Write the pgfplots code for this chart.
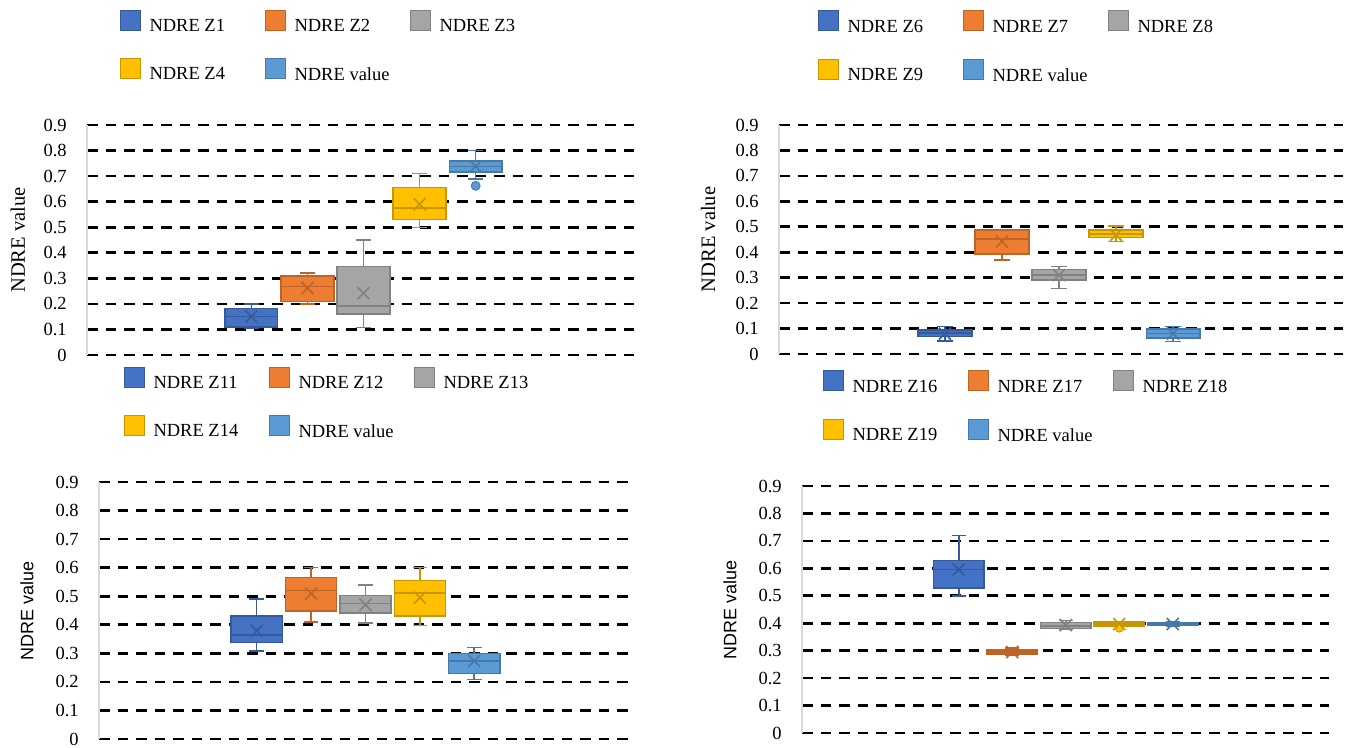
\documentclass[border=0pt]{standalone}
\usepackage{pgfplots}
\pgfplotsset{compat=1.18}
\usepgfplotslibrary{statistics}
\usepackage{fontspec}
\setmainfont{Liberation Serif}
\newfontfamily\arialfont{Liberation Sans}

\definecolor{cA}{HTML}{4472C4}
\definecolor{cB}{HTML}{ED7D31}
\definecolor{cC}{HTML}{A5A5A5}
\definecolor{cD}{HTML}{FFC000}
\definecolor{cE}{HTML}{5B9BD5}
\colorlet{cAD}{cA!78!black}
\colorlet{cBD}{cB!80!black}
\colorlet{cCD}{cC!78!black}
\colorlet{cDD}{cD!78!black}
\colorlet{cED}{cE!78!black}

% #1 position, #2 lower whisker, #3 lower quartile, #4 median, #5 upper quartile, #6 upper whisker, #7 mean, #8 colour
\newcommand{\bx}[8]{%
  \addplot[forget plot, boxplot prepared={draw position=#1, lower whisker=#2, lower quartile=#3, median=#4, upper quartile=#5, upper whisker=#6, box extend=0.94, whisker extend=0.27},
    draw=#8D, fill=#8, line width=1.5pt, boxplot/every median/.style={draw=#8D, line width=1.6pt}] coordinates {};
  \addplot[forget plot, only marks, mark=x, mark size=8.5pt, mark options={draw=#8D, line width=1.6pt}] coordinates {(#1,#7)};
}
\newcommand{\lgd}[2]{%
  \addlegendimage{fill=#1, draw=#1D, line width=1pt}
  \addlegendentry{\hspace*{9pt}\makebox[115pt][l]{#2}}
}

\pgfplotsset{
  panel/.style={
    scale only axis, anchor=south west, clip=false,
    boxplot/draw direction=y,
    ymin=0, ymax=0.9,
    ytick={0,0.1,0.2,0.3,0.4,0.5,0.6,0.7,0.8,0.9},
    yticklabels={0,0.1,0.2,0.3,0.4,0.5,0.6,0.7,0.8,0.9},
    xtick=\empty,
    axis x line=none, axis y line=left,
    y axis line style={draw=black!15, line width=1.3pt, -},
    ymajorgrids,
    major grid style={black, line width=2.6pt, dash pattern=on 10.5pt off 8pt},
    ytick style={draw=none},
    yticklabel style={font=\fontsize{18.5}{20}\selectfont, anchor=east, inner sep=0pt, xshift=-18pt},
    legend columns=3,
    legend cell align=left,
    legend style={draw=none, fill=none, inner sep=0pt, outer sep=0pt, anchor=north west,
      row sep=25pt, font=\fontsize{18.5}{20}\selectfont, nodes={inner sep=0pt}},
    legend image code/.code={\draw[##1] (0pt,-4pt) rectangle (20pt,16pt);},
  }
}

\begin{document}
\begin{tikzpicture}
\path[use as bounding box] (0,0) rectangle (1354pt,747pt);

% Panel 1
\begin{axis}[panel, at={(87pt,392pt)}, width=553pt, height=230pt, xmin=-1.93, xmax=7.93,
  ylabel={NDRE value},
  ylabel style={at={(axis description cs:-0.1248,0.5)}, anchor=center, font=\fontsize{20.5}{22}\selectfont},
  legend style={at={(axis description cs:0.0588,1.502)}}]
\lgd{cA}{NDRE Z1}\lgd{cB}{NDRE Z2}\lgd{cC}{NDRE Z3}\lgd{cD}{NDRE Z4}\lgd{cE}{NDRE value}
\bx{1}{0.105}{0.110}{0.151}{0.181}{0.200}{0.150}{cA}
\bx{2}{0.200}{0.210}{0.268}{0.310}{0.320}{0.262}{cB}
\bx{3}{0.108}{0.161}{0.191}{0.347}{0.450}{0.242}{cC}
\bx{4}{0.499}{0.531}{0.576}{0.655}{0.711}{0.590}{cD}
\addplot[forget plot, boxplot prepared={draw position=5, lower whisker=0.689, lower quartile=0.717, median=0.738, upper quartile=0.760, upper whisker=0.800, box extend=0.94, whisker extend=0.27},
  draw=cED, fill=cE, line width=1.5pt, boxplot/every median/.style={draw=cED, line width=1.6pt},
  mark=*, mark size=4.5pt, mark options={fill=cE, draw=cED, line width=0.8pt}] coordinates {(5,0.662)};
\addplot[forget plot, only marks, mark=x, mark size=8.5pt, mark options={draw=cED, line width=1.6pt}] coordinates {(5,0.738)};
\end{axis}

% Panel 2
\begin{axis}[panel, at={(779pt,393pt)}, width=564pt, height=229pt, xmin=-1.91, xmax=7.98,
  ylabel={NDRE value},
  ylabel style={at={(axis description cs:-0.1259,0.5)}, anchor=center, font=\fontsize{20.5}{22}\selectfont},
  legend style={at={(axis description cs:0.0683,1.5)}}]
\lgd{cA}{NDRE Z6}\lgd{cB}{NDRE Z7}\lgd{cC}{NDRE Z8}\lgd{cD}{NDRE Z9}\lgd{cE}{NDRE value}
\bx{1}{0.052}{0.068}{0.082}{0.094}{0.108}{0.080}{cA}
\bx{2}{0.369}{0.393}{0.451}{0.488}{0.490}{0.442}{cB}
\bx{3}{0.258}{0.290}{0.311}{0.332}{0.343}{0.310}{cC}
\bx{4}{0.442}{0.458}{0.472}{0.488}{0.504}{0.468}{cD}
\bx{5}{0.050}{0.062}{0.080}{0.099}{0.108}{0.080}{cE}
\end{axis}

% Panel 3
\begin{axis}[panel, at={(99pt,8pt)}, width=534pt, height=257pt, xmin=-1.90, xmax=7.92,
  ylabel={\arialfont NDRE value},
  ylabel style={at={(axis description cs:-0.1348,0.5)}, anchor=center, font=\fontsize{18}{20}\selectfont},
  legend style={at={(axis description cs:0.0459,1.4494)}}]
\lgd{cA}{NDRE Z11}\lgd{cB}{NDRE Z12}\lgd{cC}{NDRE Z13}\lgd{cD}{NDRE Z14}\lgd{cE}{NDRE value}
\bx{1}{0.309}{0.338}{0.364}{0.430}{0.490}{0.379}{cA}
\bx{2}{0.409}{0.448}{0.520}{0.566}{0.600}{0.509}{cB}
\bx{3}{0.406}{0.441}{0.474}{0.502}{0.540}{0.470}{cC}
\bx{4}{0.398}{0.430}{0.511}{0.555}{0.600}{0.495}{cD}
\bx{5}{0.209}{0.230}{0.274}{0.300}{0.320}{0.273}{cE}
\end{axis}

% Panel 4
\begin{axis}[panel, at={(802pt,14pt)}, width=527pt, height=247pt, xmin=-1.93, xmax=7.92,
  ylabel={\arialfont NDRE value},
  ylabel style={at={(axis description cs:-0.1366,0.5)}, anchor=center, font=\fontsize{18}{20}\selectfont},
  legend style={at={(axis description cs:0.0389,1.4677)}}]
\lgd{cA}{NDRE Z16}\lgd{cB}{NDRE Z17}\lgd{cC}{NDRE Z18}\lgd{cD}{NDRE Z19}\lgd{cE}{NDRE value}
\bx{1}{0.500}{0.529}{0.596}{0.629}{0.720}{0.596}{cA}
\bx{2}{0.282}{0.287}{0.295}{0.303}{0.310}{0.295}{cB}
\bx{3}{0.378}{0.381}{0.390}{0.402}{0.410}{0.393}{cC}
\addplot[forget plot, boxplot prepared={draw position=4, lower whisker=0.390, lower quartile=0.390, median=0.398, upper quartile=0.404, upper whisker=0.405, box extend=0.94, whisker extend=0.27},
  draw=cDD, fill=cD, line width=1.5pt, boxplot/every median/.style={draw=cDD, line width=1.6pt},
  mark=*, mark size=4pt, mark options={fill=cD, draw=cDD, line width=0.8pt}] coordinates {(4,0.382)};
\addplot[forget plot, only marks, mark=x, mark size=8.5pt, mark options={draw=cDD, line width=1.6pt}] coordinates {(4,0.397)};
\bx{5}{0.390}{0.391}{0.397}{0.403}{0.405}{0.397}{cE}
\end{axis}
\end{tikzpicture}
\end{document}
